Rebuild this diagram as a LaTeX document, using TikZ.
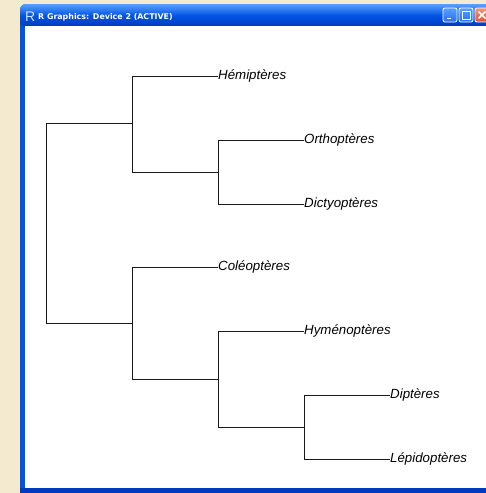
\documentclass[tikz,border=0pt]{standalone}
\usepackage{fontspec}
\setmainfont{Liberation Sans}
\newfontfamily\captionfont{DejaVu Sans}
\usetikzlibrary{calc}
\definecolor{desk}{RGB}{244,234,208}
\definecolor{xpblue}{RGB}{0,84,227}
\definecolor{xpdark}{RGB}{0,58,190}
\definecolor{xplight}{RGB}{90,160,255}
\definecolor{btnblue}{RGB}{40,110,240}
\definecolor{btnred}{RGB}{225,80,40}
\begin{document}
\begin{tikzpicture}[x=1pt,y=-1pt,
  branch/.style={line width=0.9pt,black!90},
  taxon/.style={anchor=west,inner sep=0pt,text height=6.8pt,text depth=0pt,
    font=\fontsize{13.3}{16}\selectfont\itshape},
  winbtn/.style={draw=white,line width=0.8pt,rounded corners=2pt},
  titletext/.style={anchor=base west,inner sep=0pt,text=white,
    font=\captionfont\fontsize{7.9}{10}\selectfont\bfseries}]
\useasboundingbox (0,0) rectangle (486,493);
% desktop
\fill[desk] (0,0) rectangle (486,493);
% window frame and title bar
\fill[xpblue,rounded corners=6pt] (20,4) rectangle (500,493);
\shade[top color=xplight,bottom color=xpdark,middle color=xpblue,rounded corners=6pt]
  (20,4) rectangle (500,27);
\fill[xpdark] (20,488) rectangle (486,493);
\fill[white] (24.5,26) rectangle (486,488);
% title
\node[anchor=base west,inner sep=0pt,text=white!70!xplight,
  font=\fontsize{14}{14}\selectfont] (icon) at (25,21) {R};
\node[titletext] (title) at (38,19.5) {R Graphics: Device 2 (ACTIVE)};
% window buttons
\shade[winbtn,top color=xplight,bottom color=btnblue] (443,8) rectangle (457,22);
\draw[white,line width=1.6pt] (446.5,18.5) -- (451,18.5);
\shade[winbtn,top color=xplight,bottom color=btnblue] (459,8) rectangle (473,22);
\draw[white,line width=0.8pt] (462,11.5) rectangle (470,19);
\draw[white,line width=1.6pt] (462,11.5) -- (470,11.5);
\shade[winbtn,top color=btnred!60!white,bottom color=btnred] (475,8) rectangle (489,22);
\draw[white,line width=1.5pt] (478.5,11.5) -- (485.5,18.5) (485.5,11.5) -- (478.5,18.5);
% dendrogram: inner nodes
\coordinate (root) at (46,223);
\coordinate (a) at (132,123);
\coordinate (b) at (218,172);
\coordinate (c) at (132,323);
\coordinate (d) at (218,379);
\coordinate (e) at (304,427);
% leaves
\node[taxon] (hem) at (218,76) {Hémiptères};
\node[taxon] (ort) at (304,140) {Orthoptères};
\node[taxon] (dic) at (304,204) {Dictyoptères};
\node[taxon] (col) at (218,267) {Coléoptères};
\node[taxon] (hym) at (304,331) {Hyménoptères};
\node[taxon] (dip) at (390,395) {Diptères};
\node[taxon] (lep) at (390,459) {Lépidoptères};
% branches
\draw[branch] (root) |- (a);
\draw[branch] (root) |- (c);
\draw[branch] (a) |- (hem.west);
\draw[branch] (a) |- (b);
\draw[branch] (b) |- (ort.west);
\draw[branch] (b) |- (dic.west);
\draw[branch] (c) |- (col.west);
\draw[branch] (c) |- (d);
\draw[branch] (d) |- (hym.west);
\draw[branch] (d) |- (e);
\draw[branch] (e) |- (dip.west);
\draw[branch] (e) |- (lep.west);
\end{tikzpicture}
\end{document}
